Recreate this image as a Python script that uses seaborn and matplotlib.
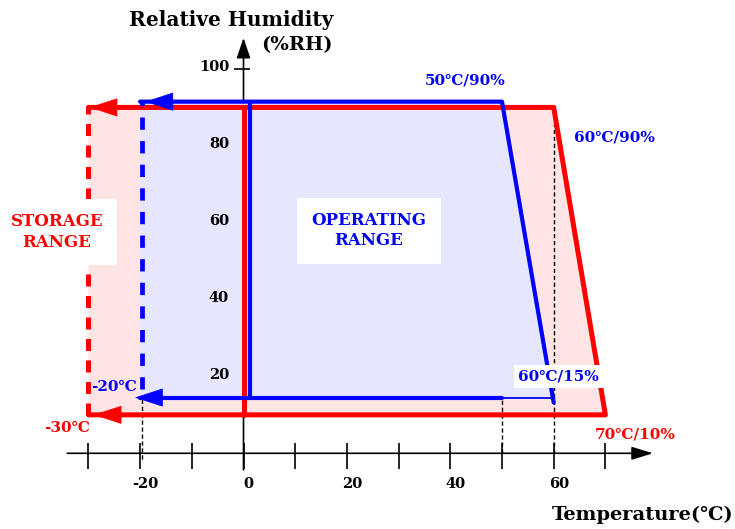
import matplotlib
matplotlib.use("Agg")
import matplotlib.pyplot as plt
import numpy as np
import pandas as pd
import seaborn as sns

# ---------------- data ----------------
x_ticks = [-30, -20, -10, 0, 10, 20, 30, 40, 50, 60, 70]
x_tick_labels = [-20, 0, 20, 40, 60]
y_ticks = [10, 20, 30, 40, 50, 60, 70, 80, 90, 100]
y_tick_labels = [20, 40, 60, 80, 100]

# storage range corners (temp, %RH): lower-left, lower-right, upper-right, upper-left
storage_temp = [-30, 70, 60, -30]
storage_rh = [10, 10, 90, 90]
# operating range corners
operating_temp = [-20, 60, 50, -20]
operating_rh = [15, 15, 90, 90]

corner_labels = ["50℃/90%", "60℃/90%", "60℃/15%", "70℃/10%", "-20℃", "-30℃"]

# ---------------- style ----------------
sns.set_theme(style="white")
FONT = ["DejaVu Serif", "DejaVu Sans"]
plt.rcParams["font.family"] = FONT
plt.rcParams["font.weight"] = "bold"

RED = "#FF0000"
BLUE = "#0000FF"
PINK = "#FFE4E4"
LAV = "#E6E6FF"
# small visual offsets so the blue outline sits beside the red one
B_TOP, B_BOT, B_X = 1.5, -0.5, 1.3

fig = plt.figure(figsize=(7.35, 5.29), dpi=100)
ax = fig.add_axes([0, 0, 1, 1])
ax.set_xlim(-47.1, 95.07)
ax.set_ylim(-19.7, 117.95)
ax.axis("off")

st = np.array(storage_temp, float)
sr = np.array(storage_rh, float)
ot = np.array(operating_temp, float)
orh = np.array(operating_rh, float) + np.array([B_BOT, B_BOT, B_TOP, B_TOP])

# fills
ax.fill(st, sr, color=PINK, zorder=1, lw=0)
ax.fill(ot, orh, color=LAV, zorder=3, lw=0)

# axes (custom drawn)
ax.annotate("", xy=(79.2, 0), xytext=(-34.1, 0),
            arrowprops=dict(arrowstyle="-|>,head_length=0.65,head_width=0.2",
                            color="black", lw=1.2, shrinkA=0, shrinkB=0,
                            mutation_scale=20), zorder=2)
ax.annotate("", xy=(0, 108.1), xytext=(0, -4.3),
            arrowprops=dict(arrowstyle="-|>,head_length=0.62,head_width=0.21",
                            color="black", lw=1.2, shrinkA=0, shrinkB=0,
                            mutation_scale=20), zorder=2)
ax.vlines(x_ticks, -4.1, 2.7, color="black", lw=1.2, zorder=2)
ax.hlines(y_ticks, -1.8, 1.3, color="black", lw=1.2, zorder=2)

for v in x_tick_labels:
    ax.text(v + 1.0, -8.0, f"{v}", ha="center", va="center", fontsize=10.5,
            fontweight="bold", color="black")
for v in y_tick_labels:
    ax.text(-2.8, v + 0.4, f"{v}", ha="right", va="center", fontsize=10.5,
            fontweight="bold", color="black")

# black dashed guides
ax.vlines([ot[0] + 0.3], -1.5, orh[0], color="black", lw=1, linestyles=(0, (3, 2)), zorder=2)
ax.vlines([ot[2]], 0, orh[2], color="black", lw=1, linestyles=(0, (3, 2)), zorder=2)
ax.vlines([st[2]], 0, sr[2], color="black", lw=1, linestyles=(0, (3, 2)), zorder=2)

# storage outline (red)
red_path = pd.DataFrame({"t": [st[3], st[2], st[1], st[0]],
                         "rh": [sr[3], sr[2], sr[1], sr[0]]})
sns.lineplot(data=red_path, x="t", y="rh", sort=False, estimator=None,
             color=RED, lw=3.6, ax=ax, zorder=5)
ax.plot([st[0], st[3]], [sr[0], sr[3]], color=RED, lw=3.6,
        linestyle=(0, (2.4, 1.9)), zorder=5, solid_capstyle="butt", dash_capstyle="butt")
ax.plot([0, 0], [sr[0], sr[2]], color=RED, lw=3.6, zorder=5)

# operating outline (blue)
blue_path = pd.DataFrame({"t": [ot[3], ot[2], ot[1]],
                          "rh": [orh[3], orh[2], orh[1] - 1.3]})
sns.lineplot(data=blue_path, x="t", y="rh", sort=False, estimator=None,
             color=BLUE, lw=3.0, ax=ax, zorder=6)
sns.lineplot(x=[ot[2], ot[0]], y=[orh[0], orh[0]], sort=False, estimator=None,
             color=BLUE, lw=3.0, ax=ax, zorder=6)
ax.plot([ot[1], ot[2]], [orh[0], orh[0]], color=BLUE, lw=1.3, zorder=6)
ax.plot([ot[0] + 0.3, ot[3] + 0.3], [orh[0] + 2.2, orh[3]], color=BLUE, lw=3.4,
        linestyle=(0, (2.6, 2.4)), zorder=6, dash_capstyle="butt")
ax.plot([B_X, B_X], [orh[0], orh[3]], color=BLUE, lw=3.0, zorder=6)

# arrowheads at the cold ends
def head(x, y, color):
    ax.annotate("", xy=(x, y), xytext=(x + 6, y),
                arrowprops=dict(arrowstyle="-|>,head_length=0.95,head_width=0.31",
                                color=color, lw=0.5, shrinkA=0, shrinkB=0,
                                mutation_scale=20), zorder=7)

head(st[3] + 0.2, sr[3], RED)
head(st[0] + 1.0, sr[0], RED)
head(ot[3] + 1.0, orh[3], BLUE)
head(ot[0] - 1.0, orh[0], BLUE)

# corner labels
lab_kw = dict(ha="center", va="center", fontsize=11, fontweight="bold", zorder=9)
ax.text(42.8, 96.9, corner_labels[0], color=BLUE, **lab_kw)
ax.text(71.8, 82.3, corner_labels[1], color=BLUE, **lab_kw)
ax.text(61.0, 19.9, corner_labels[2], color=BLUE,
        bbox=dict(boxstyle="square,pad=0.3", fc="white", ec="none"), **lab_kw)
ax.text(75.7, 5.0, corner_labels[3], color=RED, **lab_kw)
ax.text(-25.0, 17.3, corner_labels[4], color=BLUE, **lab_kw)
ax.text(-34.1, 6.6, corner_labels[5], color=RED, **lab_kw)

# range labels
ax.text(-36.1, 57.6, "STORAGE\nRANGE", color=RED, ha="center", va="center",
        fontsize=12, fontweight="bold", linespacing=1.25, zorder=9,
        bbox=dict(boxstyle="square,pad=0.85", fc="white", ec="none"))
ax.text(24.3, 57.9, "OPERATING\nRANGE", color=BLUE, ha="center", va="center",
        fontsize=12, fontweight="bold", linespacing=1.25, zorder=9,
        bbox=dict(boxstyle="square,pad=0.85", fc="white", ec="none"))

# axis titles
ax.text(17.3, 112.7, "Relative Humidity", ha="right", va="center",
        fontsize=14.5, fontweight="bold", color="black")
ax.text(17.3, 106.2, "(%RH)", ha="right", va="center",
        fontsize=14, fontweight="bold", color="black")
ax.text(94.7, -16.0, "Temperature(℃)", ha="right", va="center",
        fontsize=14, fontweight="bold", color="black")

fig.savefig("out.png", dpi=100)
